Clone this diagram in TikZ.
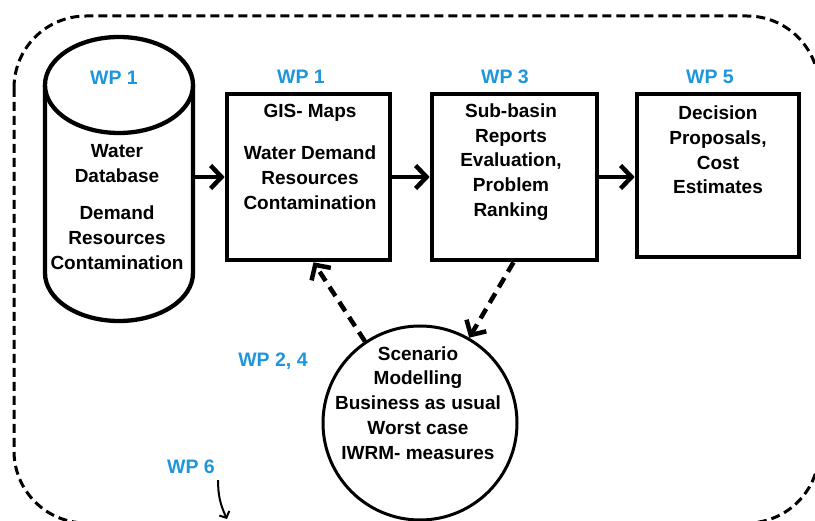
\documentclass[tikz,border=0pt]{standalone}
\usepackage{fontspec}
\setmainfont{Liberation Sans}
\usetikzlibrary{arrows.meta}
\definecolor{wpblue}{RGB}{30,150,220}
\tikzset{
  x=1pt, y=-1pt,
  frame/.style={line width=3pt, dash pattern=on 9pt off 5pt},
  boxnode/.style={draw, line width=4.6pt, inner sep=0pt},
  txt/.style={font=\fontsize{19}{24.8}\selectfont\bfseries, align=center, inner sep=0pt},
  wplabel/.style={font=\fontsize{19.5}{21}\selectfont\bfseries, text=wpblue, inner sep=0pt},
  flow/.style={line width=4.5pt, -{Straight Barb[length=11pt, width=23pt, line width=4.5pt]}},
  dflow/.style={line width=4.5pt, dash pattern=on 11pt off 7pt, -{Straight Barb[length=11pt, width=23pt, line width=4.5pt]}},
  thin/.style={line width=2pt, -{Straight Barb[length=5pt, width=11pt, line width=2pt]}},
}
\begin{document}
\begin{tikzpicture}
\useasboundingbox (0,0) rectangle (815,521);
\clip (0,0) rectangle (815,521);
\fill[white] (0,0) rectangle (815,521);
% outer frame
\draw[frame, rounded corners=72pt] (14,16) rectangle (819,523);
% cylinder
\node[minimum width=148pt, minimum height=284pt, inner sep=0pt] (db) at (119,179) {};
\draw[line width=4.3pt] (45,85) -- (45,273) arc[start angle=180, end angle=360, x radius=74pt, y radius=48pt] -- (193,85);
\draw[line width=4.3pt, fill=white] (119,85) ellipse [x radius=74pt, y radius=48pt];
\node[wplabel] (wpdb) at (114,78) {WP 1};
\node[txt] (dbtitle) at (117,163.5) {Water\\Database};
\node[txt] (dbtext) at (117,237.5) {Demand\\Resources\\Contamination};
% boxes
\node[boxnode, minimum width=163pt, minimum height=166pt] (gis) at (308.5,177) {};
\node[boxnode, minimum width=165pt, minimum height=166pt] (sub) at (514.5,177) {};
\node[boxnode, minimum width=162pt, minimum height=163pt] (dec) at (718,175.5) {};
\node[wplabel] (wpgis) at (301,77) {WP 1};
\node[wplabel] (wpsub) at (505,77) {WP 3};
\node[wplabel] (wpdec) at (710,77) {WP 5};
\node[txt] (gistitle) at (310,113) {GIS- Maps};
\node[txt] (gistext) at (310,177.5) {Water Demand\\Resources\\Contamination};
\node[txt] (subtext) at (511,162) {Sub-basin\\Reports\\Evaluation,\\Problem\\Ranking};
\node[txt] (dectext) at (718,150) {Decision\\Proposals,\\Cost\\Estimates};
% scenario circle
\node[circle, draw, line width=3pt, minimum size=194pt, inner sep=0pt] (scen) at (420,423) {};
\node[txt] (scentext) at (418,403) {Scenario\\Modelling\\Business as usual\\Worst case\\IWRM- measures};
\node[wplabel] (wp24) at (273,361) {WP 2, 4};
\node[wplabel] (wp6) at (191,467) {WP 6};
\coordinate (wp6end) at (227,519);
% connectors
\draw[flow] (db.east |- gis.west) -- (gis.west);
\draw[flow] (gis.east) -- (sub.west);
\draw[flow] (sub.east) -- (dec.west |- sub.east);
\draw[dflow] (scen.124) -- ([xshift=5pt]gis.south);
\draw[dflow] ([xshift=-1pt]sub.south) -- (scen.60);
\draw[thin] ([xshift=3pt,yshift=-6pt]wp6.south east) to[out=-90, in=115] (wp6end);
\end{tikzpicture}
\end{document}
